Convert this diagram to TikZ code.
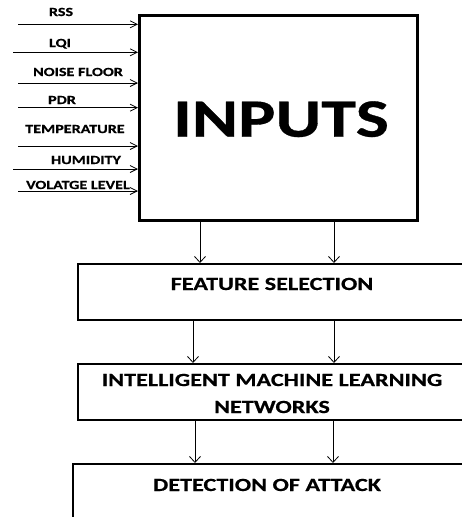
\documentclass[tikz,border=0pt]{standalone}
\usepackage{fontspec}
\setmainfont{Carlito}[FakeStretch=1.3, BoldFeatures={FakeBold=0.6}]
\usetikzlibrary{arrows.meta, positioning}
\tikzset{
    inputbox/.style={rectangle, draw, line width=2.6pt, anchor=north west, inner sep=0pt},
    stagebox/.style={rectangle, draw, line width=2pt, anchor=north west, inner sep=0pt},
    stagetext/.style={font=\bfseries\fontsize{18.6}{27}\selectfont, align=center, inner sep=0pt},
    sigtext/.style={font=\bfseries\fontsize{12.4}{14}\selectfont, inner sep=0pt, anchor=base},
    sigline/.style={-{Straight Barb[length=7pt, width=7pt]}, line width=0.8pt},
    flow/.style={-{Straight Barb[length=6pt, width=11pt]}, line width=0.8pt}
}
\begin{document}
\begin{tikzpicture}[x=1pt, y=-1pt]
  \useasboundingbox (0,0) rectangle (462,517);
  % main blocks
  \node[inputbox, minimum width=278pt, minimum height=205pt] (inputs) at (138,14) {};
  \node[font=\bfseries\fontsize{54}{60}\selectfont, inner sep=0pt, anchor=base] (inputs-txt) at (281,136.7) {INPUTS};
  \node[stagebox, minimum width=410pt, minimum height=56pt] (feat) at (77,263) {};
  \node[stagetext, anchor=base] (feat-txt) at (272,290) {FEATURE SELECTION};
  \node[stagebox, minimum width=410pt, minimum height=56pt] (iml) at (77,363) {};
  \node[stagetext] (iml-txt) at (272,393.5) {INTELLIGENT MACHINE LEARNING\\NETWORKS};
  \node[stagebox, minimum width=420pt, minimum height=80pt] (detect) at (72,463) {};
  \node[stagetext, anchor=base] (detect-txt) at (267,491) {DETECTION OF ATTACK};
  % input signals
  \coordinate (rss) at (18,24.3);
  \coordinate (lqi) at (13,52.3);
  \coordinate (noise) at (18,83);
  \coordinate (pdr) at (18,107.7);
  \coordinate (temp) at (18,146);
  \coordinate (hum) at (13,169);
  \coordinate (volt) at (18,191);
  \node[sigtext] (rss-txt) at (61,16) {RSS};
  \node[sigtext] (lqi-txt) at (60,47) {LQI};
  \node[sigtext] (noise-txt) at (78,76) {NOISE FLOOR};
  \node[sigtext] (pdr-txt) at (62,104) {PDR};
  \node[sigtext] (temp-txt) at (75,133) {TEMPERATURE};
  \node[sigtext] (hum-txt) at (86,164) {HUMIDITY};
  \node[sigtext] (volt-txt) at (78,189) {VOLATGE LEVEL};
  \draw[sigline] (rss) -- (rss -| inputs.west);
  \draw[sigline] (lqi) -- (lqi -| inputs.west);
  \draw[sigline] (noise) -- (noise -| inputs.west);
  \draw[sigline] (pdr) -- (pdr -| inputs.west);
  \draw[sigline] (temp) -- (temp -| inputs.west);
  \draw[sigline] (hum) -- (hum -| inputs.west);
  \draw[sigline] (volt) -- (volt -| inputs.west);
  % flow between blocks
  \coordinate (c1) at (200,0);
  \coordinate (c2) at (334,0);
  \coordinate (c3) at (193,0);
  \coordinate (c4) at (195,0);
  \coordinate (c5) at (333,0);
  \draw[flow] (c1 |- inputs.south) -- (c1 |- feat.north);
  \draw[flow] (c2 |- inputs.south) -- (c2 |- feat.north);
  \draw[flow] (c3 |- feat.south) -- (c3 |- iml.north);
  \draw[flow] (c2 |- feat.south) -- (c2 |- iml.north);
  \draw[flow] (c4 |- iml.south) -- (c4 |- detect.north);
  \draw[flow] (c5 |- iml.south) -- (c5 |- detect.north);
\end{tikzpicture}
\end{document}
